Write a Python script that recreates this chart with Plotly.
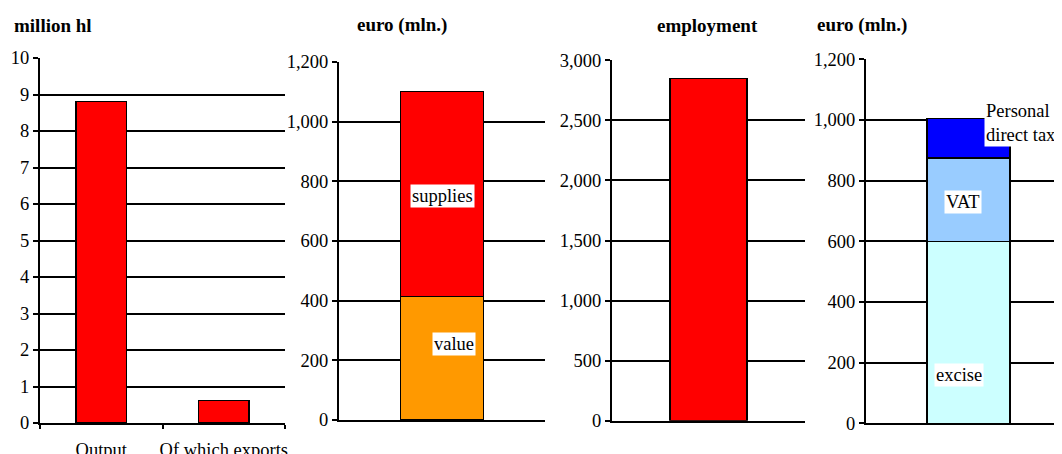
import plotly.graph_objects as go

W, H = 1062, 454
O = 8  # default page body margin

# ---- data ----
vol_categories = ["Output", "Of which exports"]
vol_values = [8.8, 0.62]

value_added = [415]
supplies = [685]

employment = [2850]

excise = [600]
vat = [275]
personal_direct_tax = [130]

titles = ["million hl", "euro (mln.)", "employment", "euro (mln.)"]

FONT = "Liberation Serif"
RED = "#FF0000"
ORANGE = "#FF9900"
CYAN = "#CCFFFF"
LBLUE = "#99CCFF"
BLUE = "#0000FF"

FW, FH = W - O, H - O

def px_x(p):
    return (p - O) / FW

def px_y(p):
    return 1 - (p - O) / FH

fig = go.Figure()
line = dict(color="black", width=1.3)

fig.add_trace(go.Bar(x=vol_categories, y=vol_values, marker=dict(color=RED, line=line),
                     width=0.41, xaxis="x", yaxis="y", showlegend=False))
fig.add_trace(go.Bar(x=[0], y=value_added, marker=dict(color=ORANGE, line=line),
                     width=0.403, xaxis="x2", yaxis="y2", showlegend=False))
fig.add_trace(go.Bar(x=[0], y=supplies, marker=dict(color=RED, line=line),
                     width=0.403, xaxis="x2", yaxis="y2", showlegend=False))
fig.add_trace(go.Bar(x=[0], y=employment, marker=dict(color=RED, line=line),
                     width=0.40, xaxis="x3", yaxis="y3", showlegend=False))
fig.add_trace(go.Bar(x=[0], y=excise, marker=dict(color=CYAN, line=line),
                     width=0.405, xaxis="x4", yaxis="y4", showlegend=False))
fig.add_trace(go.Bar(x=[0], y=vat, marker=dict(color=LBLUE, line=line),
                     width=0.405, xaxis="x4", yaxis="y4", showlegend=False))
fig.add_trace(go.Bar(x=[0], y=personal_direct_tax, marker=dict(color=BLUE, line=line),
                     width=0.405, xaxis="x4", yaxis="y4", showlegend=False))

tickfont = dict(family=FONT, size=18.5, color="black")

def yax(domain, rng, dtick, anchor):
    return dict(domain=domain, range=rng, dtick=dtick, tickformat=",",
                showline=True, linecolor="black", linewidth=2,
                ticks="outside", ticklen=5, tickcolor="black", tickwidth=1.5,
                showgrid=True, gridcolor="black", gridwidth=1.5,
                zeroline=False, tickfont=tickfont, anchor=anchor,
                automargin=False, fixedrange=True)

def xax(domain, rng, anchor):
    return dict(domain=domain, range=rng, showline=True, linecolor="black",
                linewidth=2, showgrid=False, zeroline=False,
                showticklabels=False, ticks="", anchor=anchor, automargin=False)

fig.update_layout(
    width=FW, height=FH,
    margin=dict(l=0, r=0, t=0, b=0, pad=0),
    plot_bgcolor="white", paper_bgcolor="white",
    barmode="stack",
    font=dict(family=FONT, size=18.5, color="black"),
    xaxis=dict(domain=[px_x(40), px_x(285)], showline=True, linecolor="black",
               linewidth=2, showgrid=False, zeroline=False, ticks="outside",
               tickson="boundaries", ticklen=4, tickcolor="black", tickwidth=1.5,
               tickfont=tickfont, anchor="y", tickangle=0, automargin=False,
               ticklabelstandoff=9),
    yaxis=yax([px_y(423), px_y(58)], [0, 10], 1, "x"),
    xaxis2=xax([px_x(339), px_x(545)], [-0.5, 0.5], "y2"),
    yaxis2=yax([px_y(420), px_y(62)], [0, 1200], 200, "x2"),
    xaxis3=xax([px_x(612), px_x(805)], [-0.5, 0.5], "y3"),
    yaxis3=yax([px_y(420.7), px_y(60.3)], [0, 3000], 500, "x3"),
    xaxis4=xax([px_x(866), 1.0], [-0.5, 0.456], "y4"),
    yaxis4=yax([px_y(423.3), px_y(59.3)], [0, 1200], 200, "x4"),
)

# titles
title_pos = [(12, "left"), (402, "center"), (707, "center"), (862, "center")]
for t, (x, anc) in zip(titles, title_pos):
    fig.add_annotation(text="<b>%s</b>" % t, x=px_x(x), y=px_y(25), xref="paper",
                       yref="paper", xanchor=anc, yanchor="middle", showarrow=False,
                       font=dict(family=FONT, size=19, color="black"))

lbl = dict(showarrow=False, bgcolor="white", borderpad=1,
           font=dict(family=FONT, size=18.5, color="black"))
fig.add_annotation(text="supplies", x=0.0, y=752, xref="x2", yref="y2", **lbl)
fig.add_annotation(text="value", x=0.06, y=255, xref="x2", yref="y2", **lbl)
fig.add_annotation(text="VAT", x=-0.027, y=730, xref="x4", yref="y4", **lbl)
fig.add_annotation(text="excise", x=-0.046, y=159, xref="x4", yref="y4", **lbl)
fig.add_annotation(text="Personal<br>direct tax", x=0.076, y=990, xref="x4", yref="y4",
                   xanchor="left", align="left", **lbl)

fig.write_html("out.html")
